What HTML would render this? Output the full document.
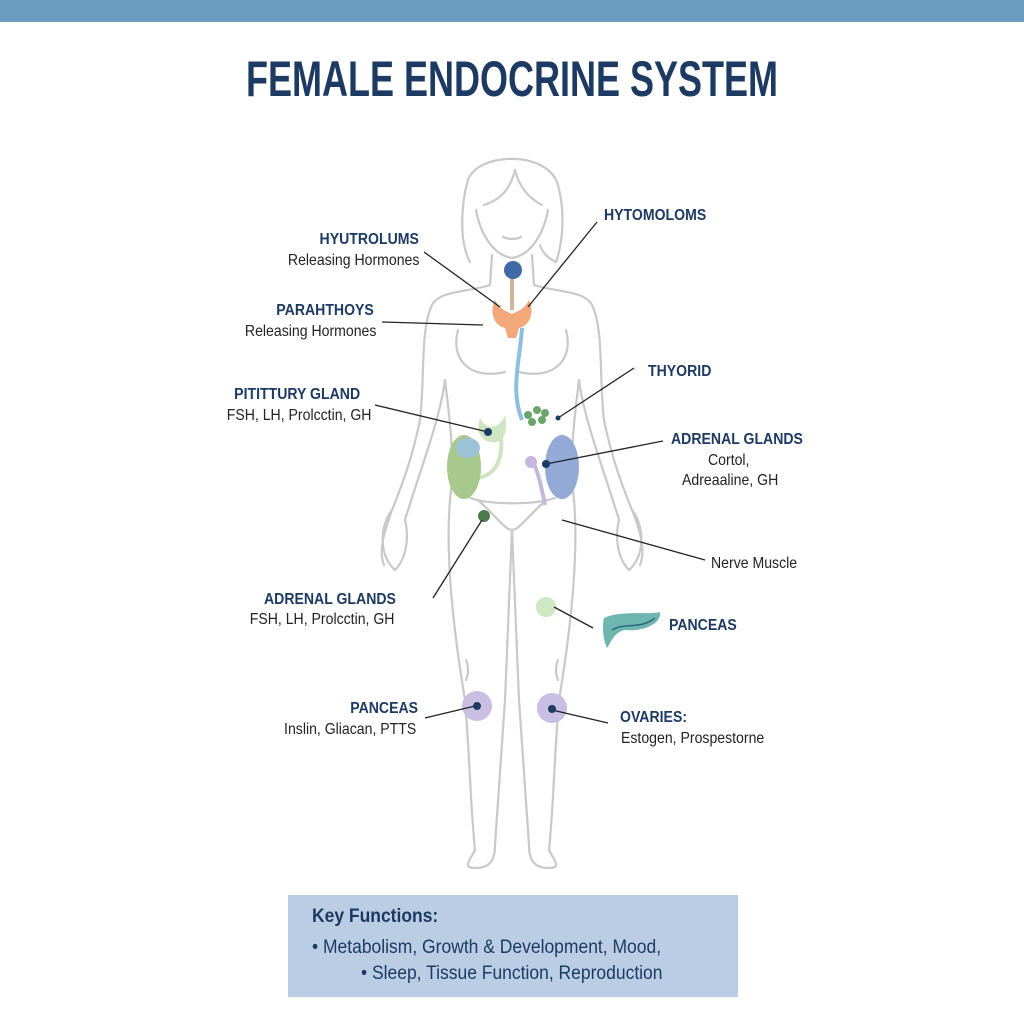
<!DOCTYPE html>
<html><head><meta charset="utf-8"><style>
html,body{margin:0;padding:0;background:#fff;}
body{width:1024px;height:1024px;position:relative;overflow:hidden;font-family:"Liberation Sans",sans-serif;}
.bar{position:absolute;left:0;top:0;width:1024px;height:22px;background:#6b9cc2;}
.title{position:absolute;left:0;width:1024px;top:50px;text-align:center;font-size:50px;font-weight:bold;color:#1d3a63;transform:scaleX(0.72);transform-origin:512px 0;}
.t{position:absolute;font-size:16px;color:#222;white-space:nowrap;line-height:20px;transform:scaleX(0.88);transform-origin:0 0;}
.h{font-weight:bold;color:#1d3a63;}
.r{text-align:right;transform-origin:100% 0;}
.box{position:absolute;left:288px;top:895px;width:450px;height:102px;background:#bacde4;}
.box div{position:absolute;font-size:19px;color:#1d3a63;white-space:nowrap;transform:scaleX(0.92);transform-origin:0 0;}
</style></head><body>
<div class="bar"></div>
<div class="title">FEMALE ENDOCRINE SYSTEM</div>
<svg width="1024" height="1024" style="position:absolute;left:0;top:0">
<g fill="none" stroke="#c9c9c9" stroke-width="2.2" stroke-linejoin="round" stroke-linecap="round">
<path d="M470,262 C458,240 462,200 468,180 C478,152 548,150 558,185 C566,215 562,245 556,262 C548,258 542,252 540,245"/>
<path d="M476,210 C480,232 492,255 512,258 C532,255 544,232 548,210"/>
<path d="M484,205 C500,200 510,190 515,170 C520,190 532,200 542,205"/>
<path d="M503,237 Q512,241 521,237"/>
<path d="M492,255 L490,285 C470,292 440,290 432,305 C420,330 425,380 420,420 C412,460 400,490 392,510 C385,530 378,550 384,565"/>
<path d="M532,255 L534,285 C554,292 584,290 592,305 C604,330 599,380 604,420 C612,460 624,490 632,510 C640,530 646,550 640,565"/>
<path d="M392,510 C380,525 378,555 395,570 C405,560 410,540 405,520"/>
<path d="M632,510 C644,525 646,555 629,570 C619,560 614,540 619,520"/>
<path d="M405,520 C420,470 440,420 445,380 C450,420 455,460 450,500"/>
<path d="M619,520 C604,470 584,420 579,380 C574,420 569,460 574,500"/>
<path d="M458,330 C450,360 470,380 505,372"/>
<path d="M566,330 C574,360 554,380 519,372"/>
<path d="M450,500 C445,560 455,640 465,700 C470,760 470,800 475,850 C470,860 462,868 475,868 C490,868 495,860 495,845 C498,800 502,750 505,700 C508,640 510,580 512,530"/>
<path d="M574,500 C579,560 569,640 559,700 C554,760 554,800 549,850 C554,860 562,868 549,868 C534,868 529,860 529,845 C526,800 522,750 519,700 C516,640 514,580 512,530"/>
<path d="M470,498 C490,505 535,505 555,498 M478,500 C495,515 505,530 512,530 C519,530 529,515 546,500"/>
<path d="M466,660 Q470,670 466,680 M558,660 Q554,670 558,680"/>
</g>
<line x1="512" y1="275" x2="512" y2="310" stroke="#d0b79a" stroke-width="4"/>
<circle cx="513" cy="270" r="9" fill="#3f6aa8"/>
<path d="M495,300 C490,310 492,325 505,328 L508,338 L516,338 L519,328 C532,325 534,310 529,300 C524,310 516,312 512,314 C508,312 500,310 495,300Z" fill="#f2a878"/>
<path d="M522,328 C520,360 510,390 522,420" fill="none" stroke="#8dbfe0" stroke-width="4"/>
<g fill="#6aa66c"><circle cx="528" cy="415" r="4"/><circle cx="537" cy="410" r="4"/><circle cx="545" cy="413" r="4"/><circle cx="532" cy="422" r="4"/><circle cx="542" cy="420" r="4"/></g>
<path d="M480,418 C485,430 500,430 505,415 C508,430 505,445 490,442 C480,440 476,430 480,418Z" fill="#cfe4c2"/>
<path d="M500,430 C505,460 495,475 478,478" fill="none" stroke="#cfe4c2" stroke-width="4"/>
<ellipse cx="464" cy="467" rx="17" ry="32" fill="#a8c98e"/>
<ellipse cx="468" cy="448" rx="12" ry="10" fill="#9dc1d6"/>
<ellipse cx="562" cy="467" rx="17" ry="32" fill="#94aad6"/>
<path d="M532,460 C538,470 542,490 545,505" fill="none" stroke="#c5b8dc" stroke-width="4"/>
<circle cx="531" cy="462" r="6" fill="#c5b8dc"/>
<circle cx="484" cy="516" r="6" fill="#4f7a50"/>
<circle cx="546" cy="607" r="10" fill="#cfe8c4"/>
<circle cx="477" cy="706" r="15" fill="#c9bfe2"/>
<circle cx="552" cy="708" r="15" fill="#c9bfe2"/>
<path d="M604,618 C620,610 650,615 660,612 C662,625 640,632 625,630 C615,632 612,640 607,648 C603,640 602,625 604,618Z" fill="#6fb5b0"/>
<path d="M612,630 C625,622 640,630 655,618" stroke="#2c6a80" stroke-width="1.5" fill="none"/>
<g stroke="#222" stroke-width="1.3">
<line x1="424" y1="252" x2="500" y2="307"/>
<line x1="597" y1="222" x2="528" y2="307"/>
<line x1="382" y1="322" x2="483" y2="325"/>
<line x1="375" y1="405" x2="488" y2="432"/>
<line x1="634" y1="368" x2="558" y2="418"/>
<line x1="663" y1="441" x2="546" y2="464"/>
<line x1="562" y1="520" x2="705" y2="560"/>
<line x1="433" y1="598" x2="482" y2="520"/>
<line x1="554" y1="607" x2="593" y2="628"/>
<line x1="425" y1="718" x2="475" y2="706"/>
<line x1="552" y1="710" x2="608" y2="723"/>
</g>
<g fill="#1d3a63"><circle cx="488" cy="432" r="4"/><circle cx="546" cy="464" r="4"/><circle cx="477" cy="706" r="4"/><circle cx="552" cy="709" r="4"/><circle cx="558" cy="418" r="2.5"/></g>
</svg>
<div class="t h r" style="right:605px;top:230px">HYUTROLUMS</div>
<div class="t r" style="right:605px;top:251px">Releasing Hormones</div>
<div class="t h" style="left:604px;top:206px">HYTOMOLOMS</div>
<div class="t h r" style="right:650px;top:301px">PARAHTHOYS</div>
<div class="t r" style="right:648px;top:322px">Releasing Hormones</div>
<div class="t h r" style="right:664px;top:385px">PITITTURY GLAND</div>
<div class="t r" style="right:653px;top:406px">FSH, LH, Prolcctin, GH</div>
<div class="t h" style="left:648px;top:362px">THYORID</div>
<div class="t h" style="left:671px;top:430px">ADRENAL GLANDS</div>
<div class="t" style="left:708px;top:451px">Cortol,</div>
<div class="t" style="left:682px;top:471px">Adreaaline, GH</div>
<div class="t" style="left:711px;top:554px">Nerve Muscle</div>
<div class="t h r" style="right:628px;top:590px">ADRENAL GLANDS</div>
<div class="t r" style="right:630px;top:610px">FSH, LH, Prolcctin, GH</div>
<div class="t h" style="left:669px;top:616px">PANCEAS</div>
<div class="t h r" style="right:606px;top:699px">PANCEAS</div>
<div class="t r" style="right:608px;top:720px">Inslin, Gliacan, PTTS</div>
<div class="t h" style="left:620px;top:708px">OVARIES:</div>
<div class="t" style="left:621px;top:729px">Estogen, Prospestorne</div>
<div class="box">
<div style="left:24px;top:11px;font-weight:bold">Key Functions:</div>
<div style="left:24px;top:42px">• Metabolism, Growth &amp; Development, Mood,</div>
<div style="left:73px;top:68px">• Sleep, Tissue Function, Reproduction</div>
</div>
</body></html>
